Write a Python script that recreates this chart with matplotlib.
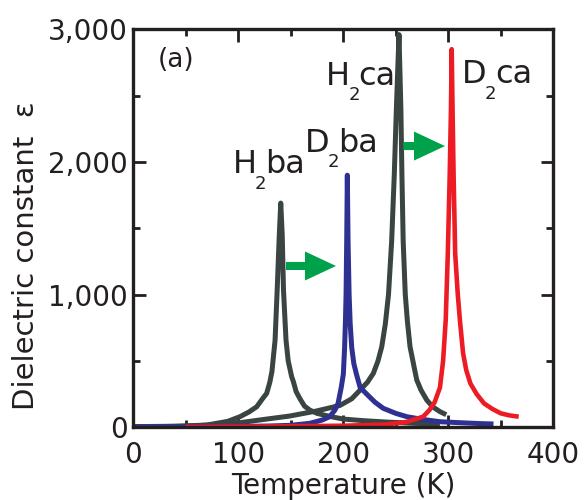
import matplotlib
matplotlib.use("Agg")
import matplotlib.pyplot as plt
from matplotlib.ticker import MultipleLocator

# dielectric constant vs temperature, read per sample
T_h2ba = [0, 40, 70, 90, 101.6, 110, 117.5, 123, 127, 130, 132, 135, 137, 139, 140.4,
          141.8, 143, 145.4, 147.5, 150.8, 152.4, 155, 158.7, 163, 168, 175, 187, 200,
          219, 240, 267, 292]
eps_h2ba = [5, 8, 17, 45, 80, 115, 155, 215, 256, 340, 420, 658, 1035, 1450, 1690,
            1450, 1035, 658, 500, 381, 345, 270, 215, 160, 130, 105, 82, 62,
            50, 40, 30, 25]

T_h2ca = [0, 50, 80, 101.7, 125, 149, 174.5, 196.8, 208, 216, 223, 228.6, 233, 236.6,
          240, 243, 246, 248.5, 250.5, 253, 254.8, 255.8, 257, 259, 261, 263.5,
          267, 269.9, 274, 279.4, 285, 292, 298]
eps_h2ca = [3, 8, 20, 35, 60, 85, 123, 165, 215, 281, 340, 407, 500, 608,
            780, 1000, 1400, 1900, 2400, 2960, 2400, 1900, 1400, 1000, 800, 608,
            470, 357, 280, 206, 155, 118, 95]

T_d2ba = [0, 50, 90, 130, 150, 168, 180, 187, 192, 195, 198, 200, 201.2, 202, 202.6,
          203.2, 203.8, 204.5, 205.5, 206.5, 208, 210, 212.5, 216, 222.3, 230, 238,
          250, 260.4, 275, 292, 310, 330, 343]
eps_d2ba = [3, 3, 5, 10, 15, 30, 55, 80, 130, 181, 300, 400, 600, 800, 1000,
            1400, 1900, 1400, 1000, 784, 600, 480, 400, 300, 250, 190, 143,
            105, 80, 60, 42, 35, 28, 25]

T_d2ca = [50, 100, 150, 200, 240, 260, 276, 282, 287, 292, 295, 297.5, 299.5, 301.3,
          302.5, 303.2, 304, 305, 306.5, 309, 311, 314, 317, 321, 327, 334, 342, 350,
          358, 367]
eps_d2ca = [3, 5, 8, 12, 20, 40, 80, 130, 190, 300, 500, 809, 1311, 1900,
            2400, 2850, 2400, 1900, 1311, 1000, 809, 560, 432, 330, 250, 180, 138, 105,
            90, 80]

x_ticks = [0, 100, 200, 300, 400]
y_ticks = [0, 1000, 2000, 3000]
y_tick_labels = ["0", "1,000", "2,000", "3,000"]

gray = "#3a4442"
blue = "#2e3192"
red = "#ed1c24"
green = "#00a14b"
ink = "#231f20"

plt.rcParams["font.family"] = ["DejaVu Sans"]

fig = plt.figure(figsize=(5.85, 5.0), dpi=100)
ax = fig.add_axes([0.2279, 0.1454, 0.718, 0.796])

lw = 3.6
ax.plot(T_h2ba, eps_h2ba, color=gray, lw=lw, solid_joinstyle="round", solid_capstyle="butt")
ax.plot(T_h2ca, eps_h2ca, color=gray, lw=lw, solid_joinstyle="round", solid_capstyle="butt")
ax.plot(T_d2ba, eps_d2ba, color=blue, lw=lw, solid_joinstyle="round", solid_capstyle="butt")
ax.plot(T_d2ca, eps_d2ca, color=red, lw=3.3, solid_joinstyle="round", solid_capstyle="butt")

ax.set_xlim(0, 400)
ax.set_ylim(0, 3000)
ax.set_xticks(x_ticks)
ax.set_xticklabels([str(t) for t in x_ticks])
ax.set_yticks(y_ticks)
ax.set_yticklabels(y_tick_labels)
ax.xaxis.set_minor_locator(MultipleLocator(50))
ax.yaxis.set_minor_locator(MultipleLocator(500))
ax.tick_params(which="both", direction="in", top=True, right=True, width=2.0, color=ink)
ax.tick_params(which="major", length=9)
ax.tick_params(which="minor", length=5)
ax.tick_params(axis="x", which="major", labelsize=20, pad=10)
ax.tick_params(axis="y", which="major", labelsize=20, pad=4)
for s in ax.spines.values():
    s.set_linewidth(2.4)
    s.set_color(ink)

ax.set_xlabel("Temperature (K)", fontsize=20, labelpad=2, color=ink)
ax.set_ylabel("Dielectric constant  ε", fontsize=21, color=ink)
ax.yaxis.set_label_coords(-0.222, 0.43)
for lab in ax.get_xticklabels() + ax.get_yticklabels():
    lab.set_color(ink)


def sub_label(x, y, main, sub, rest):
    t1 = ax.text(x, y, main, fontsize=23, va="baseline", ha="left", color=ink)
    t2 = ax.annotate(sub, xy=(1, 0), xycoords=t1, xytext=(-1.5, -6),
                     textcoords="offset points", fontsize=13, va="baseline",
                     ha="left", color=ink)
    ax.annotate(rest, xy=(1, 0), xycoords=(t2, t1), xytext=(-1, 0),
                textcoords="offset points", fontsize=23, va="bottom",
                ha="left", color=ink)


sub_label(95, 1915, "H", "2", "ba")
sub_label(163.8, 2077, "D", "2", "ba")
sub_label(183.8, 2580, "H", "2", "ca")
sub_label(313.3, 2593, "D", "2", "ca")
ax.text(23.5, 2715, "(a)", fontsize=19, va="baseline", ha="left", color=ink)

arrow = dict(arrowstyle="simple,head_length=2.23,head_width=2.09,tail_width=0.58",
             color=green, mutation_scale=10, shrinkA=0, shrinkB=0, lw=0)
ax.annotate("", xy=(193, 1216), xytext=(145.4, 1216), arrowprops=arrow)
ax.annotate("", xy=(296.8, 2120), xytext=(257.1, 2120), arrowprops=arrow)

fig.savefig("out.png", dpi=100)
